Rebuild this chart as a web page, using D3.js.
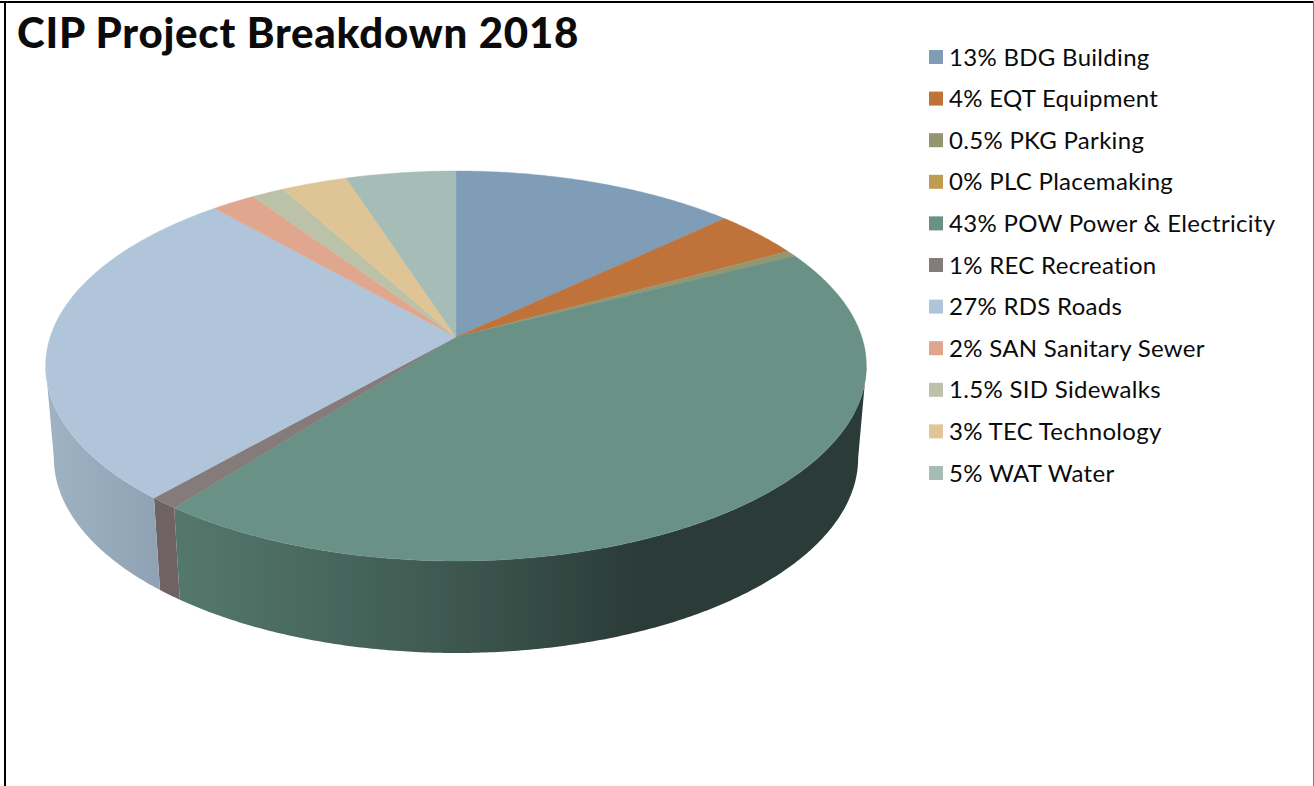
<!DOCTYPE html>
<html>
<head>
<meta charset="utf-8">
<title>CIP Project Breakdown 2018</title>
<script src="https://cdn.jsdelivr.net/npm/d3@7"></script>
<style>
  html, body { margin: 0; padding: 0; background: #fff; overflow: hidden; }
  svg { display: block; }
  text { font-family: Lato, "Open Sans", sans-serif; fill: #0b0b0b; }
</style>
</head>
<body>
<script>
// Capital improvement categories, in legend order
const codes = ["BDG Building", "EQT Equipment", "PKG Parking", "PLC Placemaking",
  "POW Power & Electricity", "REC Recreation", "RDS Roads", "SAN Sanitary Sewer",
  "SID Sidewalks", "TEC Technology", "WAT Water"];
const shares = [13, 4, 0.5, 0, 43, 1, 27, 2, 1.5, 3, 5];
const topColors = ["#7f9db6", "#c0723b", "#93966f", "#bf9d50", "#699186",
  "#857b7a", "#b1c5da", "#e0a68e", "#bbc2a8", "#dfc595", "#a5bdb6"];
const sideStops = {
  "REC Recreation": [["0%", "#6e6262"], ["100%", "#6e6262"]],
  "RDS Roads": [["0%", "#a0b3c3"], ["100%", "#8fa2b4"]],
  "POW Power & Electricity": [["0%", "#54776c"], ["55%", "#3f5a52"], ["100%", "#2b3b37"]]
};
const titleText = "CIP Project Breakdown 2018";

const W = 1314, H = 786;
const svg = d3.select("body").append("svg").attr("width", W).attr("height", H);

// Frame around the chart area
svg.append("rect").attr("x", 0).attr("y", 1).attr("width", W).attr("height", 2).attr("fill", "#000");
svg.append("rect").attr("x", 4).attr("y", 1).attr("width", 2).attr("height", H).attr("fill", "#000");
svg.append("rect").attr("x", 1313).attr("y", 1).attr("width", 1).attr("height", H).attr("fill", "#7f7f7f");

svg.append("text").attr("x", 17).attr("y", 48)
  .attr("font-size", 42).attr("font-weight", 900).attr("letter-spacing", 0.75)
  .text(titleText);

// Disc geometry: a tilted circle under a mild perspective
const cx = 456, apexY = 337;
const halfWidth = 405.8, halfDepth = 190.7, persp = 0.1486;
const wallDrop = 92, wallShrink = 0.98;
const frontFrom = Math.acos(-persp), frontTo = 2 * Math.PI - frontFrom;

const rim = a => {
  const u = Math.sin(a), v = -Math.cos(a), w = 1 - persp * v;
  return [cx + halfWidth * u / w, apexY + halfDepth * v / w];
};
const foot = a => {
  const [x, y] = rim(a);
  return [cx + (x - cx) * wallShrink, y + wallDrop];
};
const arcAngles = (a0, a1) => {
  const n = Math.max(2, Math.ceil((a1 - a0) / (Math.PI / 360)));
  return d3.range(n + 1).map(i => a0 + (a1 - a0) * i / n);
};

const color = d3.scaleOrdinal().domain(codes).range(topColors);
const path = d3.line();

// Pie runs clockwise from twelve o'clock in legend order
const slices = d3.pie().sort(null).value(d => d.share)(
  codes.map((code, i) => ({ code, share: shares[i] })));

const defs = svg.append("defs");
const chart = svg.append("g");

// Outer walls first, so the top face overlaps their upper edge
slices.forEach((s, i) => {
  const a0 = Math.max(s.startAngle, frontFrom), a1 = Math.min(s.endAngle, frontTo);
  if (a1 <= a0) return;
  const angles = arcAngles(a0, a1);
  const edge = angles.map(rim).concat(angles.slice().reverse().map(foot));
  const stops = sideStops[s.data.code];
  let fill = d3.color(color(s.data.code)).darker(0.5);
  if (stops) {
    const id = "wall" + i;
    const xs = edge.map(p => p[0]);
    const span = s.data.code === "POW Power & Electricity" ? [186, 640] : d3.extent(xs);
    const g = defs.append("linearGradient").attr("id", id)
      .attr("gradientUnits", "userSpaceOnUse")
      .attr("x1", span[0]).attr("x2", span[1]).attr("y1", 0).attr("y2", 0);
    stops.forEach(([o, c]) => g.append("stop").attr("offset", o).attr("stop-color", c));
    fill = `url(#${id})`;
  }
  chart.append("path").attr("d", path(edge) + "Z").attr("fill", fill);
});

// Top face wedges meet at the perspective centre of the disc
slices.forEach(s => {
  if (s.endAngle <= s.startAngle) return;
  const pts = [[cx, apexY]].concat(arcAngles(s.startAngle, s.endAngle).map(rim));
  chart.append("path").attr("d", path(pts) + "Z")
    .attr("fill", color(s.data.code))
    .attr("stroke", color(s.data.code)).attr("stroke-width", 0.4);
});

// Legend
const row = d3.scalePoint().domain(codes).range([57, 473]);
const legend = svg.append("g").selectAll("g").data(codes).join("g")
  .attr("transform", d => `translate(0,${row(d)})`);
legend.append("rect").attr("x", 929).attr("y", -7).attr("width", 14).attr("height", 14)
  .attr("fill", d => color(d));
legend.append("text").attr("x", 949).attr("y", 8.5)
  .attr("font-size", 24).attr("letter-spacing", 0.3)
  .text((d, i) => `${shares[i]}% ${d}`);
</script>
</body>
</html>
